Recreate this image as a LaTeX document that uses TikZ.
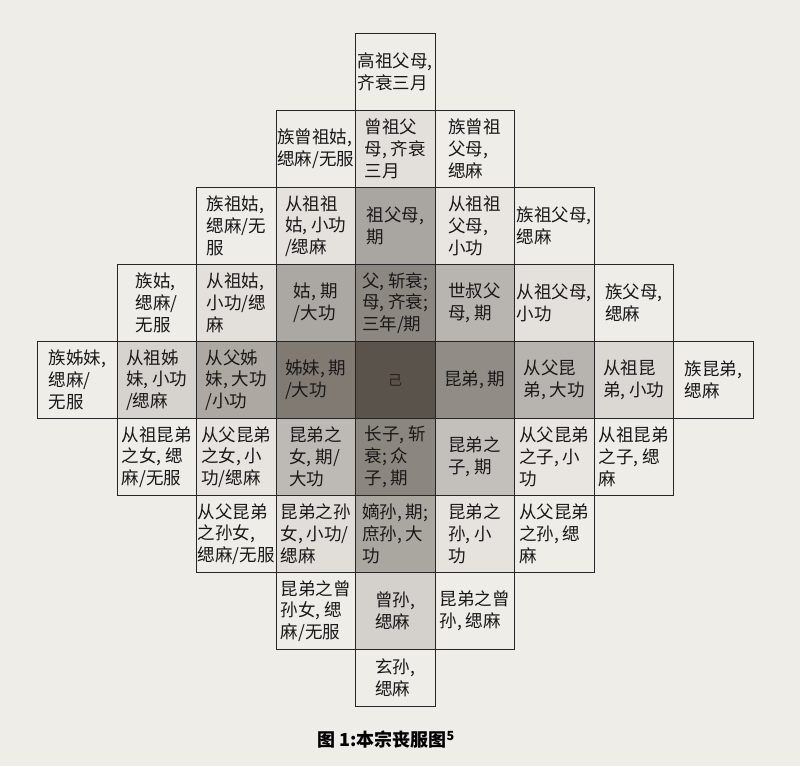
\documentclass[tikz,border=0pt]{standalone}
\usepackage{fontspec}
\setmainfont{Noto Sans CJK SC}
\definecolor{paper}{HTML}{EEEDE8}
\definecolor{ink}{HTML}{1A1818}
\tikzset{
  cellbox/.style={draw=black!85, line width=0.9pt, inner sep=0pt, anchor=north west,
    minimum width=79.5pt, minimum height=77pt, align=left, text=ink,
    font=\fontsize{17.5}{21.7}\selectfont},
  captext/.style={font=\bfseries\fontsize{18}{20}\selectfont, text=black}
}
\newcommand\mycell[5]{%
  \definecolor{c#1}{HTML}{#4}%
  \node[cellbox, fill=c#1] (#1) at ({37+79.5*#2},{33+77*#3}) {#5};}
\begin{document}
\begin{tikzpicture}[x=1pt,y=-1pt]
\fill[paper] (0,0) rectangle (800,766);
\useasboundingbox (0,0) rectangle (800,766);
% row 0
\mycell{gaozu}{4}{0}{EEEDE8}{高祖父母,\\齐衰三月}
% row 1
\mycell{zzzg}{3}{1}{EEEDE8}{族曾祖姑,\\缌麻/无服}
\mycell{zengzu}{4}{1}{E3E0DC}{曾祖父\\母, 齐衰\\三月}
\mycell{zzzfm}{5}{1}{EEEDE8}{族曾祖\\父母,\\缌麻}
% row 2
\mycell{zzg}{2}{2}{EEEDE8}{族祖姑,\\缌麻/无\\服}
\mycell{czzg}{3}{2}{E5E2DE}{从祖祖\\姑, 小功\\/缌麻}
\mycell{zufm}{4}{2}{A9A5A0}{祖父母,\\期}
\mycell{czzfm}{5}{2}{E9E6E2}{从祖祖\\父母,\\小功}
\mycell{zzfm}{6}{2}{EEEDE8}{族祖父母,\\缌麻}
% row 3
\mycell{zg}{1}{3}{EEEDE8}{族姑,\\缌麻/\\无服}
\mycell{czg}{2}{3}{E3E0DC}{从祖姑,\\小功/缌\\麻}
\mycell{gu}{3}{3}{ABA7A2}{姑, 期\\/大功}
\mycell{fumu}{4}{3}{8C8781}{父, 斩衰;\\母, 齐衰;\\三年/期}
\mycell{ssfm}{5}{3}{B8B4AF}{世叔父\\母, 期}
\mycell{czfm}{6}{3}{E4E1DD}{从祖父母,\\小功}
\mycell{zfm}{7}{3}{EEEDE8}{族父母,\\缌麻}
% row 4
\mycell{zzm}{0}{4}{EEEDE8}{族姊妹,\\缌麻/\\无服}
\mycell{czzm}{1}{4}{D6D2CE}{从祖姊\\妹, 小功\\/缌麻}
\mycell{cfzm}{2}{4}{ADA8A2}{从父姊\\妹, 大功\\/小功}
\mycell{zimei}{3}{4}{807A73}{姊妹, 期\\/大功}
\mycell{ji}{4}{4}{5A534B}{\fontsize{14}{16}\selectfont\color[HTML]{2E201C}己}
\mycell{kundi}{5}{4}{918C86}{昆弟, 期}
\mycell{cfkd}{6}{4}{B7B3AE}{从父昆\\弟, 大功}
\mycell{czkd}{7}{4}{DBD8D4}{从祖昆\\弟, 小功}
\mycell{zkd}{8}{4}{EEEDE8}{族昆弟,\\缌麻}
% row 5
\mycell{czkdn}{1}{5}{EEEDE8}{从祖昆弟\\之女, 缌\\麻/无服}
\mycell{cfkdn}{2}{5}{E7E4E0}{从父昆弟\\之女, 小\\功/缌麻}
\mycell{kdzn}{3}{5}{BDB9B5}{昆弟之\\女, 期/\\大功}
\mycell{zhangzi}{4}{5}{8B867F}{长子, 斩\\衰; 众\\子, 期}
\mycell{kdzz}{5}{5}{C3C0BC}{昆弟之\\子, 期}
\mycell{cfkdz}{6}{5}{E9E6E2}{从父昆弟\\之子, 小\\功}
\mycell{czkdz}{7}{5}{EEEDE8}{从祖昆弟\\之子, 缌\\麻}
% row 6
\mycell{cfkdsn}{2}{6}{EEEDE8}{从父昆弟\\之孙女,\\缌麻/无服}
\mycell{kdsn}{3}{6}{E1DEDA}{昆弟之孙\\女, 小功/\\缌麻}
\mycell{disun}{4}{6}{AAA6A0}{嫡孙, 期;\\庶孙, 大\\功}
\mycell{kdsun}{5}{6}{E6E3DF}{昆弟之\\孙, 小\\功}
\mycell{cfkds}{6}{6}{EEEDE8}{从父昆弟\\之孙, 缌\\麻}
% row 7
\mycell{kdzsn}{3}{7}{EEEDE8}{昆弟之曾\\孙女, 缌\\麻/无服}
\mycell{zengsun}{4}{7}{D4D0CB}{曾孙,\\缌麻}
\mycell{kdzs}{5}{7}{EEEDE8}{昆弟之曾\\孙, 缌麻}
% row 8
\node[cellbox, fill=paper, minimum height=57pt] (xuansun) at ({37+79.5*4},{33+77*8}) {玄孙,\\缌麻};
% caption
\node[captext] (cap) at (386,740) {图 1:本宗丧服图\textsuperscript{5}};
\end{tikzpicture}
\end{document}
